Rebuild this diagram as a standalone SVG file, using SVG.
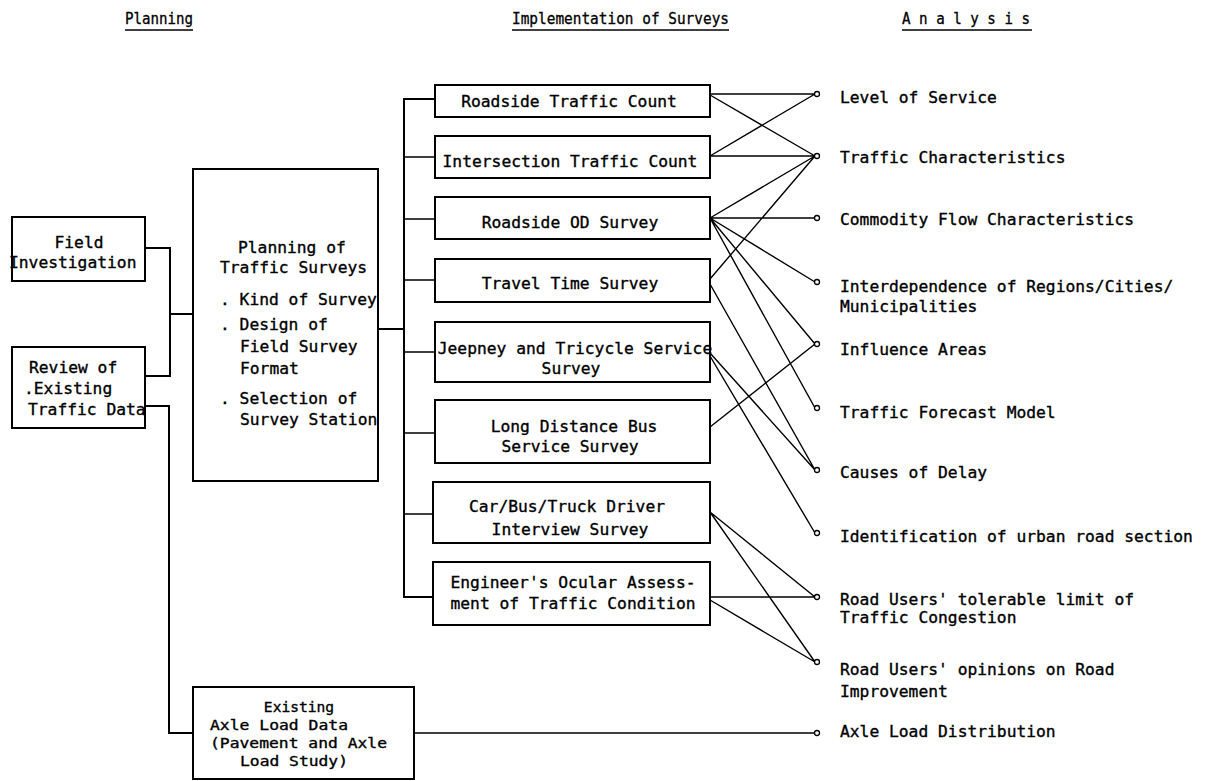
<svg xmlns="http://www.w3.org/2000/svg" width="1207" height="781" viewBox="0 0 1207 781">
<style>
  .box{fill:#fff;stroke:#000;stroke-width:2}
  .ln{fill:none;stroke:#000;stroke-width:1.4}
  .bl{fill:none;stroke:#000;stroke-width:2}
  .t{font-family:"DejaVu Sans Mono","Liberation Mono",monospace;font-size:16.3px;fill:#000;stroke:#000;stroke-width:0.35}
  .s{font-size:14.6px}
  .c{text-anchor:middle}
  .h{font-family:"DejaVu Sans Mono","Liberation Mono",monospace;font-size:15.5px;fill:#000;stroke:#000;stroke-width:0.3}
  .dot{fill:#fff;stroke:#000;stroke-width:1.3}
</style>
<rect width="1207" height="781" fill="#fff"/>

<g id="headers">
  <text class="h" x="125" y="24" textLength="68" lengthAdjust="spacingAndGlyphs">Planning</text>
  <line class="ln" x1="125" y1="30" x2="193" y2="30"/>
  <text class="h" x="512" y="24" textLength="217" lengthAdjust="spacingAndGlyphs">Implementation of Surveys</text>
  <line class="ln" x1="512" y1="30" x2="729" y2="30"/>
  <text class="h" x="902" y="24" textLength="128" lengthAdjust="spacingAndGlyphs">A n a l y s i s</text>
  <line class="ln" x1="902" y1="30" x2="1032" y2="30"/>
</g>

<g id="connectors">
  <path class="bl" d="M145,248 H170 V376 H145"/>
  <path class="bl" d="M170,314 H193"/>
  <path class="bl" d="M145,406 H169 V733 H193"/>
  <path class="bl" d="M378,329 H404"/>
  <path class="bl" d="M435,99 H404 V597 H433"/>
  <path class="ln" d="M404,157 H435 M404,219 H435 M404,280 H435 M404,352 H435 M404,433 H435 M404,514 H435"/>
  <path class="ln" d="M710,94 L815,94 M710,95 L815,156 M710,156 L815,94 M710,156 L815,156
    M710,218 L815,156 M710,218 L815,218 M710,218 L815,282 M710,218 L815,344 M710,218 L815,408
    M710,279 L815,156 M710,284 L815,470 M710,353 L815,470 M710,356 L815,533 M710,427 L815,344
    M710,512 L815,597 M710,512 L815,662 M710,597 L815,597 M710,600 L815,662 M414,733 L815,733"/>
  <g id="ends">
    <circle class="dot" cx="817" cy="94" r="2.5"/>
    <circle class="dot" cx="817" cy="156" r="2.5"/>
    <circle class="dot" cx="817" cy="218" r="2.5"/>
    <circle class="dot" cx="817" cy="282" r="2.5"/>
    <circle class="dot" cx="817" cy="344" r="2.5"/>
    <circle class="dot" cx="817" cy="408" r="2.5"/>
    <circle class="dot" cx="817" cy="470" r="2.5"/>
    <circle class="dot" cx="817" cy="533" r="2.5"/>
    <circle class="dot" cx="817" cy="597" r="2.5"/>
    <circle class="dot" cx="817" cy="662" r="2.5"/>
    <circle class="dot" cx="817" cy="733" r="2.5"/>
  </g>
</g>

<g id="field-investigation">
  <rect class="box" x="12" y="217" width="133" height="64"/>
  <text class="t c" x="79" y="248">Field</text>
  <text class="t" x="9" y="268">Investigation</text>
</g>
<g id="review-existing">
  <rect class="box" x="12" y="347" width="133" height="81"/>
  <text class="t" x="29" y="373">Review of</text>
  <text class="t" x="24" y="394">.Existing</text>
  <text class="t" x="28" y="415">Traffic Data</text>
</g>
<g id="planning-surveys">
  <rect class="box" x="193" y="169" width="185" height="312"/>
  <text class="t" x="238" y="253">Planning of</text>
  <text class="t" x="220" y="273">Traffic Surveys</text>
  <text class="t" x="220" y="305">. Kind of Survey</text>
  <text class="t" x="220" y="330">. Design of</text>
  <text class="t" x="240" y="352">Field Survey</text>
  <text class="t" x="240" y="374">Format</text>
  <text class="t" x="220" y="404">. Selection of</text>
  <text class="t" x="240" y="425">Survey Station</text>
</g>
<g id="existing-axle">
  <rect class="box" x="193" y="687" width="221" height="92"/>
  <text class="t s c" x="299" y="712">Existing</text>
  <text class="t s" x="210" y="730" textLength="138" lengthAdjust="spacingAndGlyphs">Axle Load Data</text>
  <text class="t s" x="210" y="748" textLength="177" lengthAdjust="spacingAndGlyphs">(Pavement and Axle</text>
  <text class="t s" x="240" y="766" textLength="108" lengthAdjust="spacingAndGlyphs">Load Study)</text>
</g>

<g id="roadside-count">
  <rect class="box" x="435" y="85" width="275" height="32"/>
  <text class="t c" x="569" y="107">Roadside Traffic Count</text>
</g>
<g id="intersection-count">
  <rect class="box" x="435" y="136" width="275" height="42"/>
  <text class="t c" x="570" y="167">Intersection Traffic Count</text>
</g>
<g id="roadside-od">
  <rect class="box" x="435" y="197" width="275" height="42"/>
  <text class="t c" x="570" y="228">Roadside OD Survey</text>
</g>
<g id="travel-time">
  <rect class="box" x="435" y="259" width="275" height="43"/>
  <text class="t c" x="570" y="289">Travel Time Survey</text>
</g>
<g id="jeepney">
  <rect class="box" x="435" y="322" width="275" height="60"/>
  <text class="t c" x="575" y="354">Jeepney and Tricycle Service</text>
  <text class="t c" x="571" y="374">Survey</text>
</g>
<g id="long-distance">
  <rect class="box" x="435" y="400" width="275" height="63"/>
  <text class="t c" x="574" y="432">Long Distance Bus</text>
  <text class="t c" x="570" y="452">Service Survey</text>
</g>
<g id="driver-interview">
  <rect class="box" x="433" y="482" width="277" height="61"/>
  <text class="t c" x="567" y="512">Car/Bus/Truck Driver</text>
  <text class="t c" x="570" y="535">Interview Survey</text>
</g>
<g id="engineer-assessment">
  <rect class="box" x="433" y="562" width="277" height="63"/>
  <text class="t c" x="573" y="588">Engineer's Ocular Assess-</text>
  <text class="t c" x="573" y="609">ment of Traffic Condition</text>
</g>

<g id="analysis">
  <text class="t" x="840" y="103">Level of Service</text>
  <text class="t" x="840" y="163">Traffic Characteristics</text>
  <text class="t" x="840" y="225">Commodity Flow Characteristics</text>
  <text class="t" x="840" y="292">Interdependence of Regions/Cities/</text>
  <text class="t" x="840" y="312">Municipalities</text>
  <text class="t" x="840" y="355">Influence Areas</text>
  <text class="t" x="840" y="418">Traffic Forecast Model</text>
  <text class="t" x="840" y="478">Causes of Delay</text>
  <text class="t" x="840" y="542">Identification of urban road section</text>
  <text class="t" x="840" y="605">Road Users' tolerable limit of</text>
  <text class="t" x="840" y="623">Traffic Congestion</text>
  <text class="t" x="840" y="675">Road Users' opinions on Road</text>
  <text class="t" x="840" y="697">Improvement</text>
  <text class="t" x="840" y="737">Axle Load Distribution</text>
</g>
</svg>
